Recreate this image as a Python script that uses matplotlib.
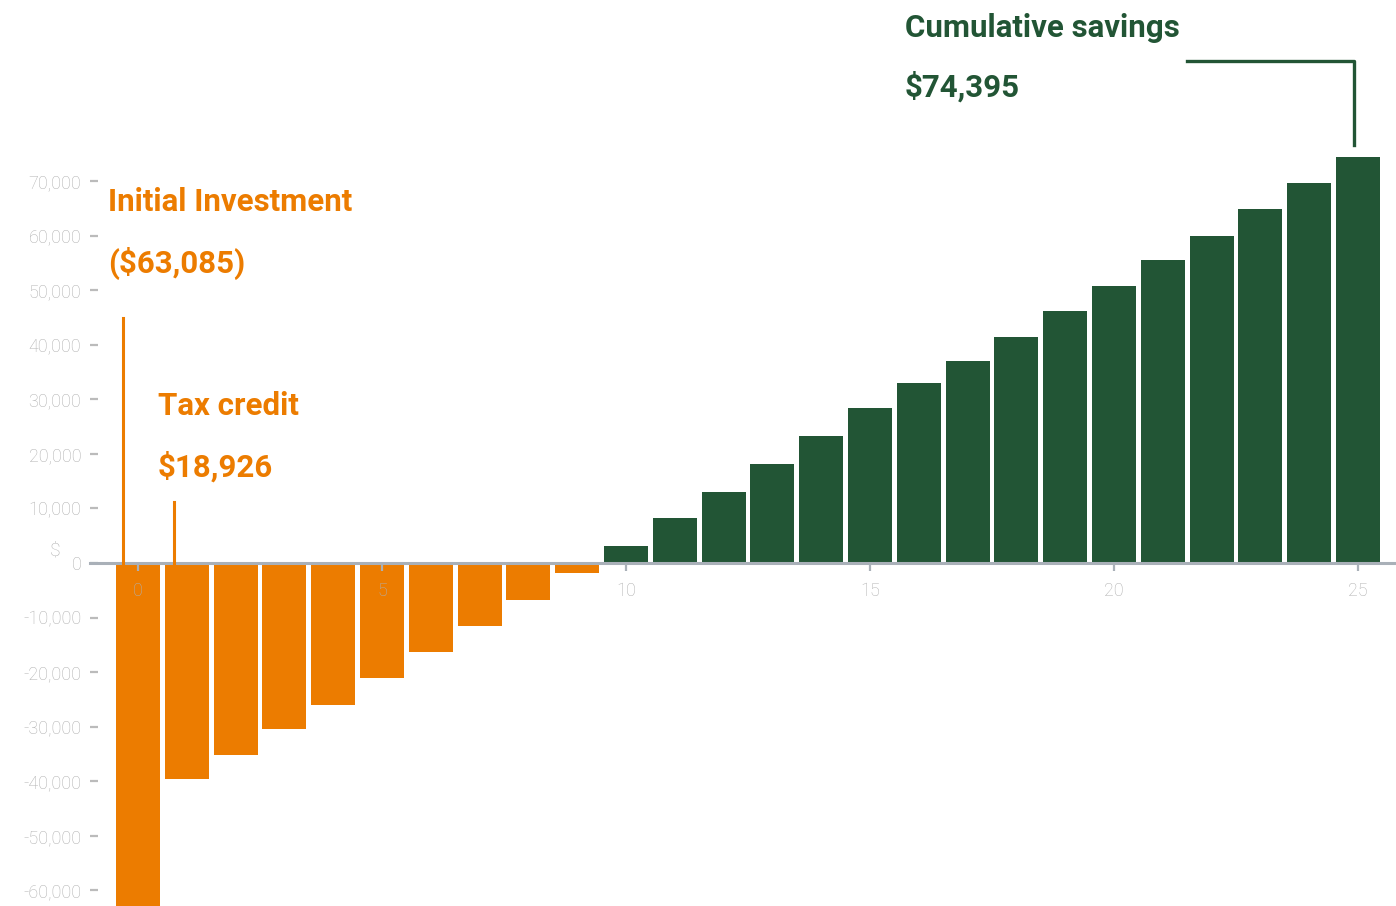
import matplotlib
matplotlib.use("Agg")
import matplotlib.pyplot as plt
from matplotlib.lines import Line2D

years = list(range(0, 26))
cumulative = [-63085, -39580, -35180, -30420, -26020, -21070, -16310, -11540, -6780, -1830,
              3120, 8250, 13010, 18140, 23270, 28400, 32990, 37020, 41410, 46180,
              50760, 55520, 59920, 64870, 69640, 74395]
yticks = [-60000, -50000, -40000, -30000, -20000, -10000, 0, 10000, 20000, 30000, 40000, 50000, 60000, 70000]
ytick_labels = ["-60,000", "-50,000", "-40,000", "-30,000", "-20,000", "-10,000", "0",
                "10,000", "20,000", "30,000", "40,000", "50,000", "60,000", "70,000"]
xticks = [0, 5, 10, 15, 20, 25]

ORANGE = "#EC7C00"
GREEN = "#225535"
LABEL_GRAY = "#B0B0B0"
TICK_GRAY = "#BBBBBB"
AXIS_GRAY = "#A9B0B8"

fig = plt.figure(figsize=(13.96, 9.06), dpi=100)
ax = fig.add_axes([98 / 1396, 0, 1 - 98 / 1396, 1])
ax.set_xlim(-0.82, 25.78)
ax.set_ylim(-62855, 103170)
ax.set_axisbelow(False)

colors = [ORANGE if v < 0 else GREEN for v in cumulative]
ax.bar(years, cumulative, width=0.9, color=colors, zorder=2)

for name, s in ax.spines.items():
    if name == "bottom":
        s.set_position(("data", 0))
        s.set_color("none")
    else:
        s.set_visible(False)

ax.add_line(Line2D([-0.006, 1], [0, 0], transform=ax.get_yaxis_transform(),
                   color=AXIS_GRAY, lw=2.2, clip_on=False, zorder=3))

ax.set_yticks(yticks)
ax.set_yticklabels(ytick_labels)
ax.set_xticks(xticks)
ax.set_xticklabels([str(x) for x in xticks])
ax.tick_params(axis="y", length=6, width=1.6, color=TICK_GRAY, labelcolor=LABEL_GRAY,
               labelsize=13, pad=6)
ax.tick_params(axis="x", length=6, width=1.6, color=AXIS_GRAY, labelcolor=LABEL_GRAY,
               labelsize=13, pad=8)
for lab in ax.get_yticklabels() + ax.get_xticklabels():
    lab.set_fontfamily("Roboto")
    lab.set_fontweight("light")

ax.text(-1.58, 700, "$", ha="right", va="bottom",
        fontsize=14, color=LABEL_GRAY, fontfamily="Roboto", fontweight="light")

# annotation lines
ax.plot([-0.31, -0.31], [-300, 44900], color=ORANGE, lw=2.2, zorder=4)
ax.plot([0.74, 0.74], [-300, 11180], color=ORANGE, lw=2.2, zorder=4)
ax.plot([21.5, 24.92, 24.92], [92000, 92000, 76600], color=GREEN, lw=2.4, zorder=4)

tfont = dict(fontfamily="Roboto", fontweight="bold", fontsize=22.5, va="baseline")
ax.text(-0.61, (563 - 211) / 54.57 * 10000, "Initial Investment", color=ORANGE, **tfont)
ax.text(-0.61, (563 - 273) / 54.57 * 10000, "($63,085)", color=ORANGE, **tfont)
ax.text(0.41, (563 - 415) / 54.57 * 10000, "Tax credit", color=ORANGE, **tfont)
ax.text(0.41, (563 - 477) / 54.57 * 10000, "$18,926", color=ORANGE, **tfont)
ax.text(15.72, (563 - 37) / 54.57 * 10000, "Cumulative savings", color=GREEN, **tfont)
ax.text(15.72, (563 - 97) / 54.57 * 10000, "$74,395", color=GREEN, **tfont)

fig.savefig("out.png", dpi=100)
